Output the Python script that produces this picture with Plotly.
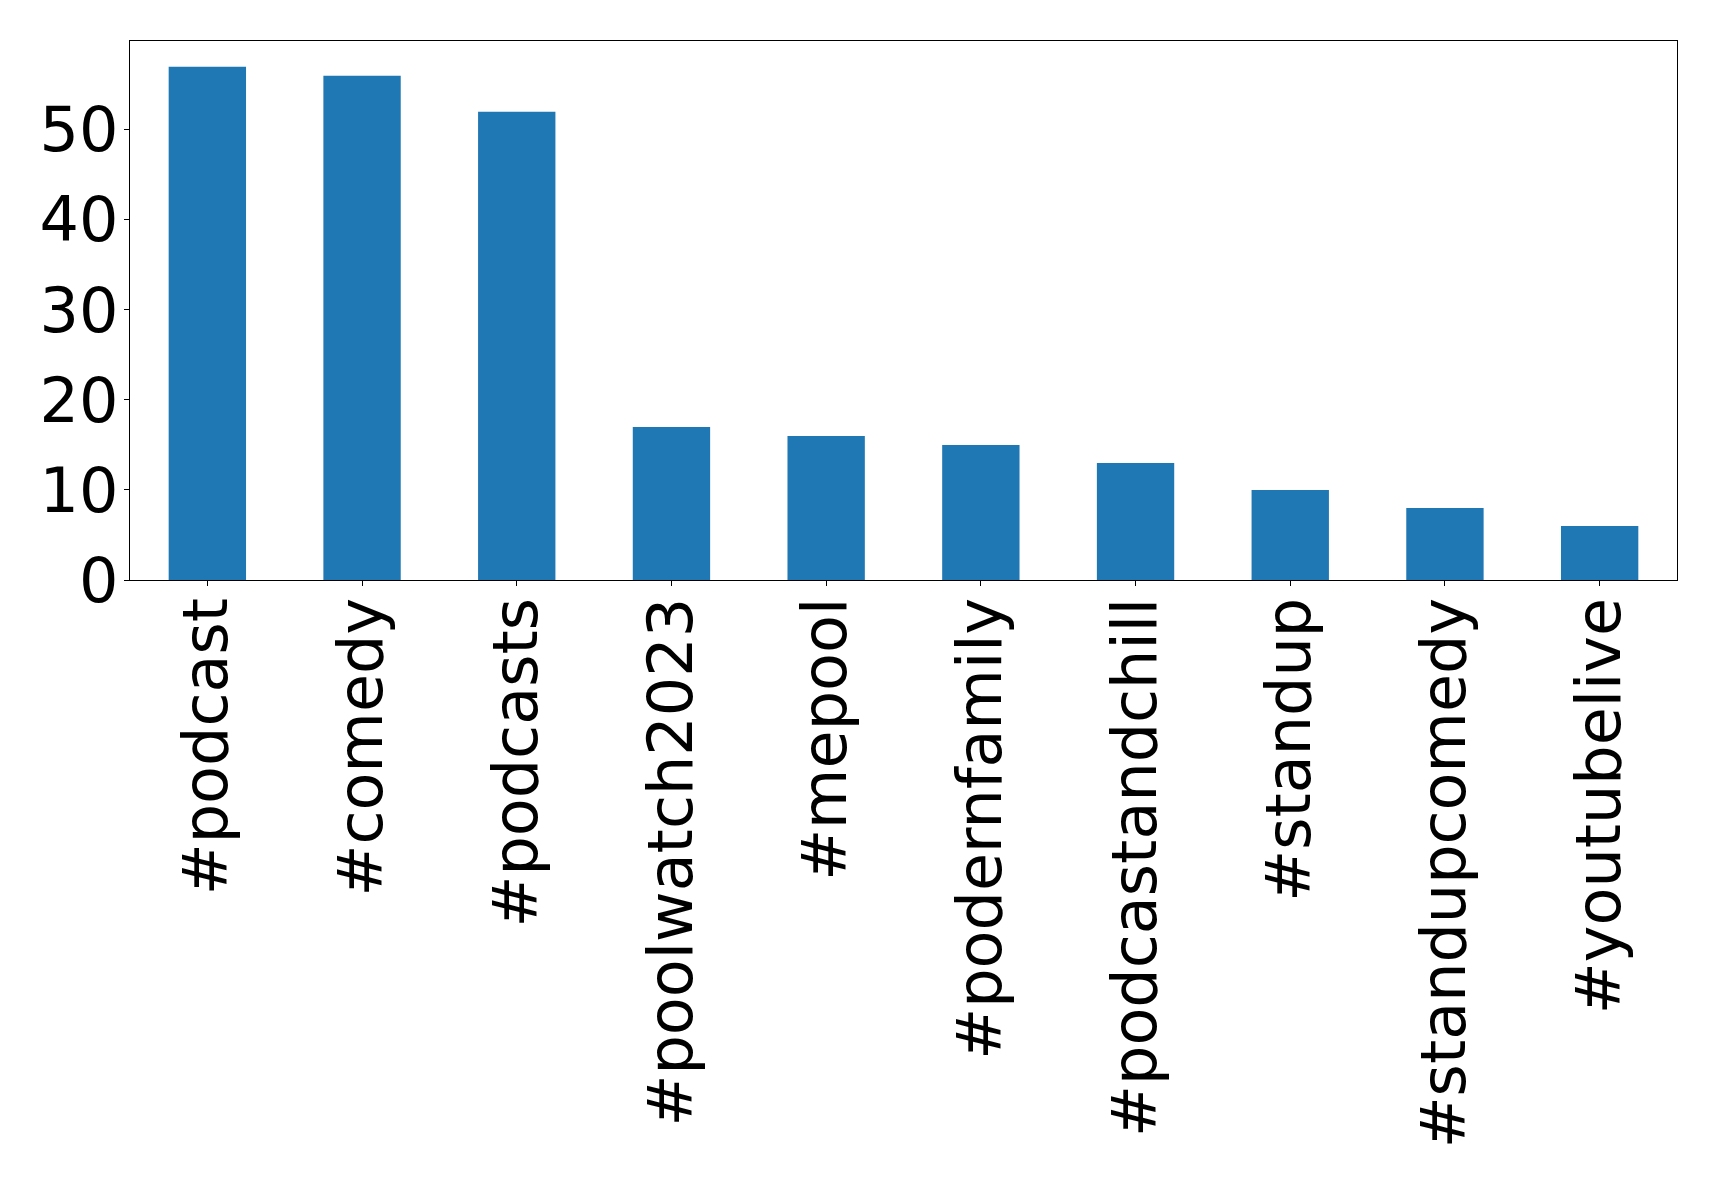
import plotly.graph_objects as go

categories = ["#podcast", "#comedy", "#podcasts", "#poolwatch2023", "#mepool",
              "#podernfamily", "#podcastandchill", "#standup", "#standupcomedy", "#youtubelive"]
counts = [57, 56, 52, 17, 16, 15, 13, 10, 8, 6]
y_ticks = [0, 10, 20, 30, 40, 50]

fig = go.Figure(go.Bar(x=categories, y=counts, width=0.5, marker_color="#1f77b4",
                       marker_line_width=0))

font = dict(family="DejaVu Sans", size=62, color="black")
fig.update_layout(
    width=1719, height=1183,
    margin=dict(l=122, r=50, t=33, b=611, pad=0),
    plot_bgcolor="white", paper_bgcolor="white",
    showlegend=False,
    font=font,
)
fig.update_xaxes(
    range=[-0.5, 9.5], tickangle=-90, tickfont=font,
    showline=True, linecolor="black", linewidth=1.2, mirror=True,
    ticks="outside", ticklen=5, tickwidth=1, tickcolor="black",
    showgrid=False, zeroline=False, ticklabelstandoff=-13,
)
fig.update_yaxes(
    range=[0, 59.85], tickvals=y_ticks, tickfont=font,
    showline=True, linecolor="black", linewidth=1.2, mirror=True,
    ticks="outside", ticklen=5, tickwidth=1, tickcolor="black",
    showgrid=False, zeroline=False, ticklabelstandoff=-7,
)
fig.write_html("out.html")
